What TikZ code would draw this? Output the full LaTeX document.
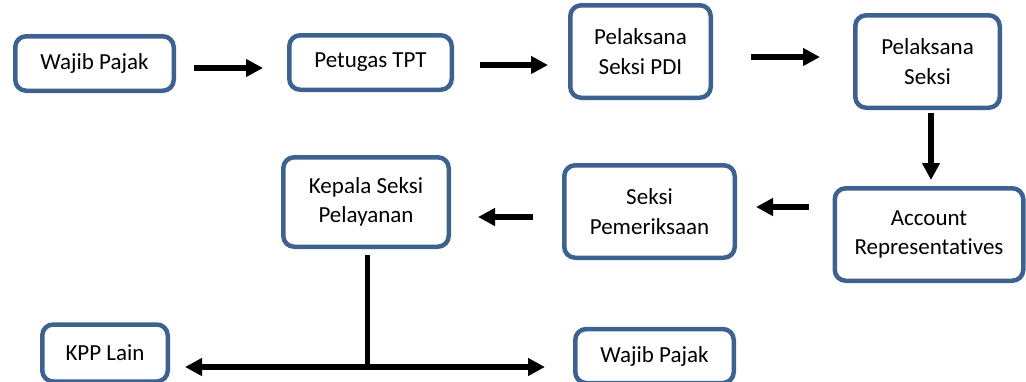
\documentclass[tikz,border=0pt]{standalone}
\usepackage{fontspec}
\setmainfont{Carlito}[Ligatures={NoCommon}]
\usetikzlibrary{arrows.meta}
\definecolor{boxblue}{HTML}{3E6290}
\begin{document}
\begin{tikzpicture}[x=1pt,y=-1pt,
  box/.style={draw=boxblue, line width=4.5pt, rounded corners=11pt, fill=white,
    align=center, inner sep=0pt, font=\fontsize{23}{29.5}\selectfont},
  flow/.style={line width=5.5pt, -{Triangle[length=17pt,width=17pt]}},
  both/.style={line width=5.5pt, {Triangle[length=17pt,width=17pt]}-{Triangle[length=17pt,width=17pt]}},
  bar/.style={line width=5.5pt}]
\useasboundingbox (0,0) rectangle (1026,381);
% boxes
\node[box, minimum width=158.5pt, minimum height=54.5pt] (A) at (94.5,63.5) {Wajib Pajak};
\node[box, minimum width=162.5pt, minimum height=54.5pt] (B) at (370.5,62.5) {Petugas TPT};
\node[box, minimum width=140.5pt, minimum height=92.5pt] (C) at (640.5,51.5) {Pelaksana\\Seksi PDI};
\node[box, minimum width=144.5pt, minimum height=92.5pt] (D) at (927.5,61.5) {Pelaksana\\Seksi};
\node[box, minimum width=188.5pt, minimum height=92.5pt] (E) at (929,234.5) {Account\\Representatives};
\node[box, minimum width=170.5pt, minimum height=92.5pt] (F) at (649.5,211.5) {Seksi\\Pemeriksaan};
\node[box, minimum width=165.5pt, minimum height=89.5pt] (G) at (366,202) {Kepala Seksi\\Pelayanan};
\node[box, minimum width=125.5pt, minimum height=57pt] (H) at (105,353) {KPP Lain};
\node[box, minimum width=158.5pt, minimum height=54pt] (I) at (654.5,356) {Wajib Pajak};
% arrow end points
\coordinate (a1s) at (194,68);  \coordinate (a1e) at (263,68);
\coordinate (a2s) at (480,65);  \coordinate (a2e) at (548,65);
\coordinate (a3s) at (751,57);  \coordinate (a3e) at (820,57);
\coordinate (a4s) at (931,113); \coordinate (a4e) at (931,180);
\coordinate (a5s) at (809,207); \coordinate (a5e) at (756,207);
\coordinate (a6s) at (533,217); \coordinate (a6e) at (478,217);
\coordinate (vs) at (367.5,255); \coordinate (ve) at (367.5,370);
\coordinate (hl) at (185,367);  \coordinate (hr) at (545,367);
% connectors
\draw[flow] (a1s) -- (a1e);
\draw[flow] (a2s) -- (a2e);
\draw[flow] (a3s) -- (a3e);
\draw[flow] (a4s) -- (a4e);
\draw[flow] (a5s) -- (a5e);
\draw[flow] (a6s) -- (a6e);
\draw[bar] (vs) -- (ve);
\draw[both] (hl) -- (hr);
\end{tikzpicture}
\end{document}
